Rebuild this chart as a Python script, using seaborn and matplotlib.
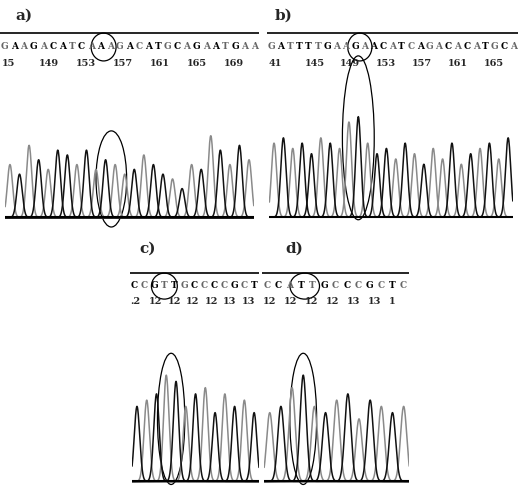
import numpy as np
import pandas as pd
import seaborn as sns
import matplotlib.pyplot as plt
from matplotlib.patches import Ellipse

sns.set_style("white")
plt.rcParams['font.family'] = ['DejaVu Serif']

seq_a = "GAAGACATCAAAGACATGCAGAATGAA"
num_a = ["15", "149", "153", "157", "161", "165", "169"]
peaks_a = [0.55, 0.45, 0.75, 0.6, 0.5, 0.7, 0.65, 0.55, 0.7, 0.5, 0.6, 0.55, 0.45, 0.5, 0.65, 0.55, 0.45, 0.4, 0.3, 0.55, 0.5, 0.85, 0.7, 0.55, 0.75, 0.6]
shade_a = [1, 0, 1, 0, 1, 0, 0, 1, 0, 1, 0, 1, 1, 0, 1, 0, 0, 1, 0, 1, 0, 1, 0, 1, 0, 1]

seq_b = "GATTTTGAAGAACATCAGACACATGCA"
num_b = ["41", "145", "149", "153", "157", "161", "165"]
peaks_b = [0.7, 0.75, 0.65, 0.7, 0.6, 0.75, 0.7, 0.65, 0.9, 0.95, 0.7, 0.6, 0.65, 0.55, 0.7, 0.6, 0.5, 0.65, 0.55, 0.7, 0.5, 0.6, 0.65, 0.7, 0.55, 0.75]
shade_b = [1, 0, 1, 0, 0, 1, 0, 1, 1, 0, 1, 0, 0, 1, 0, 1, 0, 1, 1, 0, 1, 0, 1, 0, 1, 0]

seq_c = "CCGTTGCCCCGCT"
num_c = [".2", "12", "12", "12", "12", "13", "13"]
peaks_c = [0.6, 0.65, 0.7, 0.85, 0.8, 0.6, 0.7, 0.75, 0.55, 0.7, 0.6, 0.65, 0.55]
shade_c = [0, 1, 0, 1, 0, 1, 0, 1, 0, 1, 0, 1, 0]

seq_d = "CCATTGCCCGCTC"
num_d = ["12", "12", "12", "12", "13", "13", "1"]
peaks_d = [0.55, 0.6, 0.75, 0.85, 0.6, 0.55, 0.65, 0.7, 0.5, 0.65, 0.6, 0.55, 0.6]
shade_d = [1, 0, 1, 0, 1, 0, 1, 0, 1, 0, 1, 0, 1]

fig = plt.figure(figsize=(5.18, 4.95), dpi=100)

def panel(rect_head, rect_trace, label, lpos, seq, nums, peaks, shade, ell_head, ell_trace):
    ah = fig.add_axes(rect_head)
    ah.set_xlim(0, len(seq)); ah.set_ylim(0, 1); ah.axis('off')
    ah.axhline(0.98, color='black', lw=1.2)
    for i, ch in enumerate(seq):
        ah.text(i + 0.5, 0.62, ch, ha='center', va='center', fontsize=6.5,
                color='black' if shade[i % len(shade)] == 0 else '#666666', fontweight='bold')
    for j, n in enumerate(nums):
        ah.text((j + 0.05) * len(seq) / len(nums), 0.15, n, ha='left', va='center', fontsize=7, fontweight='bold')
    ah.add_patch(Ellipse(ell_head, 2.6, 0.75, fill=False, color='black', lw=0.9, clip_on=False))
    fig.text(lpos[0], lpos[1], label, fontsize=11, fontweight='bold')

    at = fig.add_axes(rect_trace)
    x = np.linspace(-0.5, len(peaks) - 0.5, 800)
    rows = []
    for k, (h, s) in enumerate(zip(peaks, shade)):
        y = h * np.exp(-((x - k) ** 2) / (2 * 0.28 ** 2))
        rows.append(pd.DataFrame({'x': x, 'y': y, 'k': k, 's': s}))
    df = pd.concat(rows)
    for s, col in [(1, '#8a8a8a'), (0, '#111111')]:
        sns.lineplot(data=df[df.s == s], x='x', y='y', units='k', estimator=None,
                     color=col, lw=1.1, ax=at, legend=False)
    at.set_xlim(-0.5, len(peaks) - 0.5); at.set_ylim(-0.03, 1.0)
    at.axhline(0, color='black', lw=1.5)
    at.axis('off')
    at.add_patch(Ellipse(ell_trace[:2], ell_trace[2], ell_trace[3], fill=False, color='black', lw=0.9, clip_on=False))

panel([0.0, 0.86, 0.5, 0.075], [0.01, 0.555, 0.48, 0.2], 'a)', (0.03, 0.96),
      seq_a, num_a, peaks_a, shade_a, (10.8, 0.6), (10.6, 0.4, 3.2, 1.0))
panel([0.515, 0.86, 0.485, 0.075], [0.52, 0.555, 0.47, 0.22], 'b)', (0.53, 0.96),
      seq_b, num_b, peaks_b, shade_b, (10.0, 0.6), (9.0, 0.75, 3.4, 1.55))
panel([0.25, 0.38, 0.25, 0.07], [0.255, 0.02, 0.245, 0.26], 'c)', (0.27, 0.49),
      seq_c, num_c, peaks_c, shade_c, (3.5, 0.6), (3.5, 0.5, 2.8, 1.05))
panel([0.505, 0.38, 0.285, 0.07], [0.51, 0.02, 0.28, 0.26], 'd)', (0.55, 0.49),
      seq_d, num_d, peaks_d, shade_d, (3.8, 0.6), (3.0, 0.5, 2.4, 1.05))

fig.savefig('out.png', dpi=100)
